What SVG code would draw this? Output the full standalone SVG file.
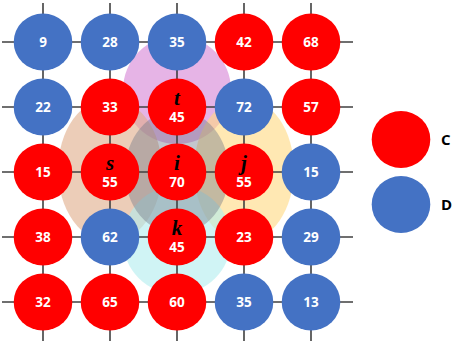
<svg xmlns="http://www.w3.org/2000/svg" width="453" height="344" viewBox="0 0 453 344">
<style>
.ln{stroke:#404040;stroke-width:1.6;fill:none}
.r{fill:#ff0000}
.b{fill:#4472c4}
.n{font-family:"Open Sans","Noto Sans",sans-serif;font-weight:bold;font-size:13.5px;fill:#ffffff;text-anchor:middle}
.v{font-family:"Liberation Serif",serif;font-style:italic;font-weight:bold;font-size:21px;fill:#000000;text-anchor:middle}
.lg{font-family:"Open Sans","Noto Sans",sans-serif;font-weight:bold;font-size:15px;fill:#000000}
</style>
<rect width="453" height="344" fill="#ffffff"/>
<g id="regions">
<ellipse cx="177" cy="90" rx="54" ry="54" fill="#d98cd9" fill-opacity="0.65"/>
<ellipse cx="110" cy="170" rx="52" ry="72" fill="#dfab88" fill-opacity="0.6"/>
<ellipse cx="244" cy="170" rx="50" ry="72" fill="#ffd980" fill-opacity="0.6"/>
<ellipse cx="177" cy="240" rx="54" ry="54" fill="#b0ecee" fill-opacity="0.6"/>
<ellipse cx="177" cy="172" rx="52" ry="62" fill="#707888" fill-opacity="0.42"/>
</g>
<g id="connectors">
<path class="ln" d="M2 42H353M2 107H353M2 172H353M2 237H353M2 302H353M43 3V341M110 3V341M177 3V341M244 3V341M311 3V341"/>
</g>
<g id="n9"><ellipse class="b" cx="43" cy="42" rx="29.3" ry="28.5"/><text class="n" x="43" y="47">9</text></g>
<g id="n28"><ellipse class="b" cx="110" cy="42" rx="29.3" ry="28.5"/><text class="n" x="110" y="47">28</text></g>
<g id="n35a"><ellipse class="b" cx="177" cy="42" rx="29.3" ry="28.5"/><text class="n" x="177" y="47">35</text></g>
<g id="n42"><ellipse class="r" cx="244" cy="42" rx="29.3" ry="28.5"/><text class="n" x="244" y="47">42</text></g>
<g id="n68"><ellipse class="r" cx="311" cy="42" rx="29.3" ry="28.5"/><text class="n" x="311" y="47">68</text></g>
<g id="n22"><ellipse class="b" cx="43" cy="107" rx="29.3" ry="28.5"/><text class="n" x="43" y="112">22</text></g>
<g id="n33"><ellipse class="r" cx="110" cy="107" rx="29.3" ry="28.5"/><text class="n" x="110" y="112">33</text></g>
<g id="nt"><ellipse class="r" cx="177" cy="107" rx="29.3" ry="28.5"/><text class="v" x="177" y="105">t</text><text class="n" x="177" y="122">45</text></g>
<g id="n72"><ellipse class="b" cx="244" cy="107" rx="29.3" ry="28.5"/><text class="n" x="244" y="112">72</text></g>
<g id="n57"><ellipse class="r" cx="311" cy="107" rx="29.3" ry="28.5"/><text class="n" x="311" y="112">57</text></g>
<g id="n15a"><ellipse class="r" cx="43" cy="172" rx="29.3" ry="28.5"/><text class="n" x="43" y="177">15</text></g>
<g id="ns"><ellipse class="r" cx="110" cy="172" rx="29.3" ry="28.5"/><text class="v" x="110" y="170">s</text><text class="n" x="110" y="187">55</text></g>
<g id="ni"><ellipse class="r" cx="177" cy="172" rx="29.3" ry="28.5"/><text class="v" x="177" y="170">i</text><text class="n" x="177" y="187">70</text></g>
<g id="nj"><ellipse class="r" cx="244" cy="172" rx="29.3" ry="28.5"/><text class="v" x="244" y="170">j</text><text class="n" x="244" y="187">55</text></g>
<g id="n15b"><ellipse class="b" cx="311" cy="172" rx="29.3" ry="28.5"/><text class="n" x="311" y="177">15</text></g>
<g id="n38"><ellipse class="r" cx="43" cy="237" rx="29.3" ry="28.5"/><text class="n" x="43" y="242">38</text></g>
<g id="n62"><ellipse class="b" cx="110" cy="237" rx="29.3" ry="28.5"/><text class="n" x="110" y="242">62</text></g>
<g id="nk"><ellipse class="r" cx="177" cy="237" rx="29.3" ry="28.5"/><text class="v" x="177" y="235">k</text><text class="n" x="177" y="252">45</text></g>
<g id="n23"><ellipse class="r" cx="244" cy="237" rx="29.3" ry="28.5"/><text class="n" x="244" y="242">23</text></g>
<g id="n29"><ellipse class="b" cx="311" cy="237" rx="29.3" ry="28.5"/><text class="n" x="311" y="242">29</text></g>
<g id="n32"><ellipse class="r" cx="43" cy="302" rx="29.3" ry="28.5"/><text class="n" x="43" y="307">32</text></g>
<g id="n65"><ellipse class="r" cx="110" cy="302" rx="29.3" ry="28.5"/><text class="n" x="110" y="307">65</text></g>
<g id="n60"><ellipse class="r" cx="177" cy="302" rx="29.3" ry="28.5"/><text class="n" x="177" y="307">60</text></g>
<g id="n35b"><ellipse class="b" cx="244" cy="302" rx="29.3" ry="28.5"/><text class="n" x="244" y="307">35</text></g>
<g id="n13"><ellipse class="b" cx="311" cy="302" rx="29.3" ry="28.5"/><text class="n" x="311" y="307">13</text></g>
<g id="legend">
<ellipse class="r" cx="401" cy="139.5" rx="29.3" ry="28.5"/><text class="lg" x="441" y="145">C</text>
<ellipse class="b" cx="401" cy="204.5" rx="29.3" ry="28.5"/><text class="lg" x="441" y="210">D</text>
</g>
</svg>
